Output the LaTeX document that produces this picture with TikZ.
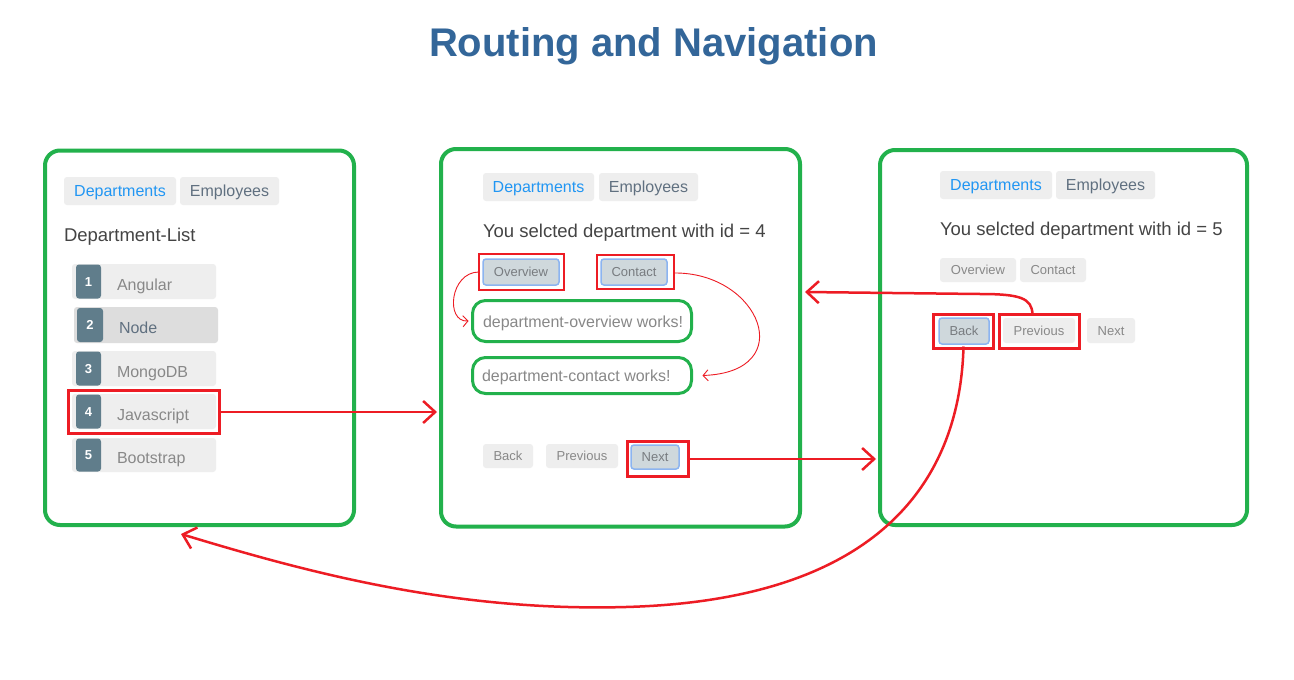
\documentclass[tikz,border=0pt]{standalone}
\usepackage{fontspec}
\setmainfont{Liberation Sans}
\usetikzlibrary{arrows.meta}
\definecolor{pgreen}{RGB}{34,177,76}
\definecolor{pred}{RGB}{237,28,36}
\definecolor{titleblue}{RGB}{51,102,153}
\definecolor{btngray}{RGB}{238,238,238}
\definecolor{btndark}{RGB}{221,221,221}
\definecolor{badgec}{RGB}{96,125,139}
\definecolor{linkblue}{RGB}{33,150,243}
\definecolor{slate}{RGB}{96,112,128}
\definecolor{darktext}{RGB}{68,68,68}
\definecolor{graytext}{RGB}{136,136,136}
\definecolor{seltext}{RGB}{120,124,128}
\definecolor{selfill}{RGB}{207,216,220}
\definecolor{selborder}{RGB}{140,180,240}
\begin{document}
\begin{tikzpicture}[x=1pt,y=-1pt,
  every node/.style={inner sep=0pt, outer sep=0pt},
  bx/.style 2 args={minimum width=#1, minimum height=#2, anchor=north west},
  panel/.style={draw=pgreen, line width=4pt, rounded corners=15pt},
  tab/.style={fill=btngray, rounded corners=3pt, font=\fontsize{16}{19}\selectfont, text height=11.5pt, text depth=0pt},
  btn/.style={fill=btngray, rounded corners=3pt, font=\fontsize{13}{16}\selectfont, text height=9.3pt, text depth=0pt, text=graytext},
  selbtn/.style={btn, fill=selfill, draw=selborder, line width=1.5pt, text=seltext},
  redbox/.style={draw=pred, line width=3pt},
  thinbox/.style={draw=pred, line width=1.5pt},
  oval/.style={draw=pgreen, line width=3pt, rounded corners=13pt},
  ovtext/.style={font=\fontsize{16}{19}\selectfont, text=graytext, anchor=base west},
  itembg/.style={fill=btngray, rounded corners=3pt},
  badge/.style={fill=badgec, rounded corners=3pt, text=white, font=\fontsize{13}{16}\selectfont\bfseries, text height=9.3pt, text depth=0pt},
  itemtext/.style={font=\fontsize{16}{19}\selectfont, text=graytext, anchor=base west},
  heading/.style={font=\fontsize{18.5}{22}\selectfont, text=darktext, anchor=base west},
  thick arrow/.style={draw=pred, line width=2.5pt, -{Straight Barb[length=12pt,width=22pt]}},
  thin arrow/.style={draw=pred, line width=0.9pt, -{Straight Barb[length=5pt,width=11pt]}}
]
\useasboundingbox[fill=white] (0,0) rectangle (1294,680);

% title
\node[font=\fontsize{40}{48}\selectfont\bfseries, text=titleblue, anchor=base] (title) at (653.5,56) {Routing and Navigation};

% panels
\node[panel, bx={309}{374.5}] (leftp) at (45,150.5) {};
\node[panel, bx={359}{377.5}] (midp) at (441,149) {};
\node[panel, bx={367}{375}] (rightp) at (880,150) {};

% ---------- left panel ----------
\node[tab, bx={112}{28}, text=linkblue] (lt1) at (64,177) {Departments};
\node[tab, bx={99}{28}, text=slate] (lt2) at (180,177) {Employees};
\node[heading] (lhead) at (64,241) {Department-List};

\node[itembg, bx={144}{35}] (i1) at (72,264) {};
\node[badge, bx={25}{34}] (b1) at (76,264.5) {1};
\node[itemtext] (l1) at (117,290) {Angular};

\node[itembg, bx={144}{36}, fill=btndark] (i2) at (74,307) {};
\node[badge, bx={26}{34}] (b2) at (77,308) {2};
\node[itemtext, text=slate] (l2) at (119,333) {Node};

\node[itembg, bx={144}{35}] (i3) at (72,351) {};
\node[badge, bx={25}{34}] (b3) at (76,351.5) {3};
\node[itemtext] (l3) at (117,377) {MongoDB};

\node[itembg, bx={144}{35}] (i4) at (72,394) {};
\node[badge, bx={25}{34}] (b4) at (76,394.5) {4};
\node[itemtext] (l4) at (117,420) {Javascript};

\node[itembg, bx={144}{34}] (i5) at (72,438) {};
\node[badge, bx={25}{33}] (b5) at (76,438.5) {5};
\node[itemtext] (l5) at (117,463) {Bootstrap};

\node[redbox, bx={151}{43}] (jsbox) at (68.5,390.5) {};

% ---------- middle panel ----------
\node[tab, bx={111}{28}, text=linkblue] (mt1) at (483,173) {Departments};
\node[tab, bx={99}{28}, text=slate] (mt2) at (599,173) {Employees};
\node[heading] (mhead) at (483,237) {You selcted department with id = 4};

\node[selbtn, bx={76}{26}] (mov) at (483,259) {Overview};
\node[selbtn, bx={66}{26}] (mct) at (601,259) {Contact};
\node[thinbox, bx={85}{36}] (movbox) at (479,254) {};
\node[thinbox, bx={77}{34}] (mctbox) at (597,255) {};

\node[oval, bx={219}{41}] (ovw) at (472.5,300.5) {};
\node[ovtext] (ovwt) at (483,327) {department-overview works!};
\node[oval, bx={219}{36}] (ctw) at (472.5,357.5) {};
\node[ovtext] (ctwt) at (482,381) {department-contact works!};

\node[btn, bx={50}{24}] (mback) at (483,444) {Back};
\node[btn, bx={72}{24}] (mprev) at (546,444) {Previous};
\node[selbtn, bx={48}{24}] (mnext) at (631,445) {Next};
\node[redbox, bx={61}{35}] (mnextbox) at (627.5,441.5) {};

% ---------- right panel ----------
\node[tab, bx={112}{28}, text=linkblue] (rt1) at (940,171) {Departments};
\node[tab, bx={99}{28}, text=slate] (rt2) at (1056,171) {Employees};
\node[heading] (rhead) at (940,235) {You selcted department with id = 5};

\node[btn, bx={76}{24}] (rov) at (940,258) {Overview};
\node[btn, bx={66}{24}] (rct) at (1020,258) {Contact};

\node[selbtn, bx={50}{26}] (rback) at (939,318) {Back};
\node[btn, bx={72}{25}] (rprev) at (1003,318) {Previous};
\node[btn, bx={48}{25}] (rnext) at (1087,318) {Next};
\node[redbox, bx={60}{34}] (rbackbox) at (933.5,314.5) {};
\node[redbox, bx={80}{34}] (rprevbox) at (999.5,314.5) {};

% ---------- connectors ----------
\coordinate (prevend) at (805,292);
\coordinate (backend) at (181,534);

\draw[thick arrow] (jsbox.east) -- ([xshift=-4pt]jsbox.east -| midp.west);
\draw[thick arrow] (mnextbox.east) -- ([xshift=-4pt]mnextbox.east -| rightp.west);
\draw[thick arrow] ([xshift=-7pt]rprevbox.north) .. controls (1032,298) and (1020,294) .. (980,294) -- (prevend);
\draw[thick arrow] ([yshift=2pt]rbackbox.south) .. controls (960,480) and (880,600) .. (626,607) .. controls (450,612) and (300,570) .. (backend);

\draw[thin arrow] (movbox.west) .. controls (450,272) and (445,322) .. ([xshift=-4pt]ovw.west);
\draw[thin arrow] ([yshift=-1pt]mctbox.east) .. controls (760,272) and (800,372) .. ([xshift=11pt]ctw.east);
\end{tikzpicture}
\end{document}
